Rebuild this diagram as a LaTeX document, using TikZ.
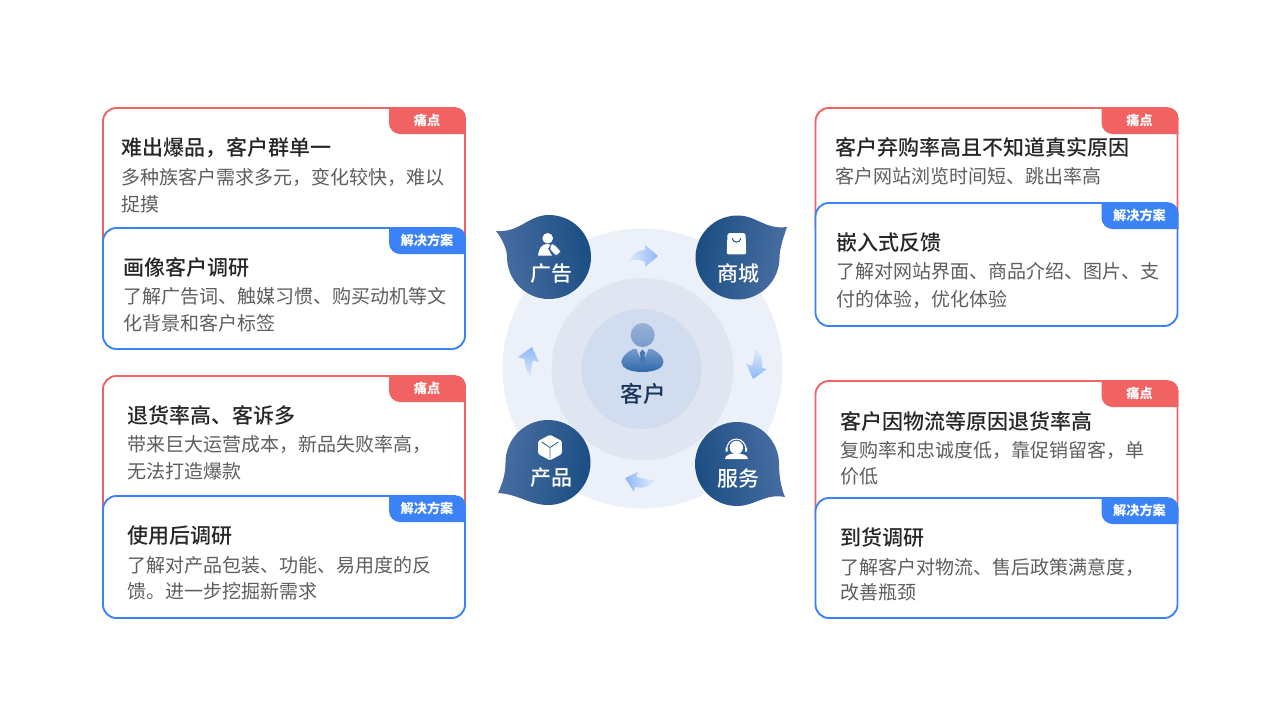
\documentclass[tikz,border=0pt]{standalone}
\usepackage{fontspec}
\setmainfont{Noto Sans CJK SC}
\newfontfamily\medfont{Noto Sans CJK SC Medium}
\definecolor{cred}{HTML}{F16362}
\definecolor{cblue}{HTML}{3A82F6}
\definecolor{ctitle}{HTML}{262626}
\definecolor{cbody}{HTML}{5E5E5E}
\definecolor{ringa}{HTML}{ECF1F9}
\definecolor{ringb}{HTML}{DFE6F1}
\definecolor{ringc}{HTML}{D1DDEE}
\definecolor{blobl}{HTML}{4A6FA3}
\definecolor{blobd}{HTML}{1B4E83}
\definecolor{arrs}{HTML}{8DB8F8}
\definecolor{arrp}{HTML}{E3ECFA}
\definecolor{heada}{HTML}{96B2D8}
\definecolor{headb}{HTML}{7A9BCB}
\definecolor{bodya}{HTML}{789BCD}
\definecolor{bodyb}{HTML}{2D69AA}
\definecolor{tiec}{HTML}{4878B4}
\definecolor{centertext}{HTML}{1A345C}
\tikzset{
  redcard/.style={draw=cred,line width=1.4pt,fill=white,rounded corners=10pt},
  bluecard/.style={draw=cblue,line width=1.4pt,fill=white,rounded corners=10pt},
  titletext/.style={anchor=west,inner sep=0pt,text height=12pt,text depth=0pt,text=ctitle,font=\medfont\fontsize{15.75pt}{18pt}\selectfont},
  bodytext/.style={anchor=west,inner sep=0pt,text height=10.8pt,text depth=0pt,text=cbody,font=\fontsize{14.25pt}{17pt}\selectfont},
  tagtext/.style={inner sep=0pt,text height=7.4pt,text depth=0pt,text=white,font=\bfseries\fontsize{9.9pt}{12pt}\selectfont},
  bloblabel/.style={inner sep=0pt,text height=12pt,text depth=0pt,text=white,font=\medfont\fontsize{15.75pt}{18pt}\selectfont},
  blob/.style={left color=blobl,right color=blobd,draw=none},
  flow/.style={draw=none},
}
\newcommand{\cardtag}[5]{%
  \fill[#4,shift={(#2,#3)}] (0,-0.8) -- (66,-0.8) arc (-90:0:11) -- (76.8,26) -- (11,26) arc (90:180:11) -- cycle;
  \node[tagtext] (#1) at (#2+38,#3+13) {#5};}
\begin{document}
\begin{tikzpicture}[x=0.75pt,y=-0.75pt]
\useasboundingbox (0,0) rectangle (1280,719);
\fill[white] (0,0) rectangle (1280,719);

% cards, left top
\draw[redcard] (103,108) rectangle (465,262);
\cardtag{tagA}{389}{108}{cred}{痛点}
\node[titletext] (tA) at (121,147) {难出爆品，客户群单一};
\node[bodytext] (bA1) at (121,177) {多种族客户需求多元，变化较快，难以};
\node[bodytext] (bA2) at (121,204) {捉摸};
\draw[bluecard] (103,228) rectangle (465,349);
\cardtag{tagB}{389}{228}{cblue}{解决方案}
\node[titletext] (tB) at (123,267) {画像客户调研};
\node[bodytext] (bB1) at (123,296) {了解广告词、触媒习惯、购买动机等文};
\node[bodytext] (bB2) at (123,323) {化背景和客户标签};

% left bottom
\draw[redcard] (103,376) rectangle (465,530);
\cardtag{tagC}{389}{376}{cred}{痛点}
\node[titletext] (tC) at (127,415) {退货率高、客诉多};
\node[bodytext] (bC1) at (127,444) {带来巨大运营成本，新品失败率高，};
\node[bodytext] (bC2) at (127,471) {无法打造爆款};
\draw[bluecard] (103,496) rectangle (465,618);
\cardtag{tagD}{389}{496}{cblue}{解决方案}
\node[titletext] (tD) at (127,535) {使用后调研};
\node[bodytext] (bD1) at (127,565) {了解对产品包装、功能、易用度的反};
\node[bodytext] (bD2) at (127,591) {馈。进一步挖掘新需求};

% right top
\draw[redcard] (815.5,108) rectangle (1177.5,240);
\cardtag{tagE}{1101.5}{108}{cred}{痛点}
\node[titletext] (tE) at (835,147) {客户弃购率高且不知道真实原因};
\node[bodytext] (bE1) at (835,176) {客户网站浏览时间短、跳出率高};
\draw[bluecard] (815.5,203) rectangle (1177.5,326);
\cardtag{tagF}{1101.5}{203}{cblue}{解决方案}
\node[titletext] (tF) at (836,242) {嵌入式反馈};
\node[bodytext] (bF1) at (836,271) {了解对网站界面、商品介绍、图片、支};
\node[bodytext] (bF2) at (836,299) {付的体验，优化体验};

% right bottom
\draw[redcard] (815.5,381) rectangle (1177.5,530);
\cardtag{tagG}{1101.5}{381}{cred}{痛点}
\node[titletext] (tG) at (840,421) {客户因物流等原因退货率高};
\node[bodytext] (bG1) at (840,450) {复购率和忠诚度低，靠促销留客，单};
\node[bodytext] (bG2) at (840,476) {价低};
\draw[bluecard] (815.5,498) rectangle (1177.5,618);
\cardtag{tagH}{1101.5}{498}{cblue}{解决方案}
\node[titletext] (tH) at (840,537) {到货调研};
\node[bodytext] (bH1) at (840,567) {了解客户对物流、售后政策满意度，};
\node[bodytext] (bH2) at (840,592) {改善瓶颈};

% rings
\fill[ringa] (642.5,368.5) circle (140);
\fill[ringb] (642.5,369) circle (91);
\fill[ringc] (641.5,369) circle (60);

% person
\shade[top color=heada,bottom color=headb] (642.7,335) circle (12);
\shade[top color=bodya,bottom color=bodyb]
  (633,349) .. controls (627,352) and (621.5,357) .. (621.5,362) .. controls (621.5,368) and (630,372) .. (642.5,372) .. controls (655,372) and (663.5,368) .. (663.5,362) .. controls (663.5,357) and (658,352) .. (652,349) -- cycle;
\fill[ringc] (636,347.5) -- (649,347.5) -- (642.5,363) -- cycle;
\fill[tiec] (642.5,349.5) -- (645.5,353) -- (644.5,356) -- (645.5,360) -- (642.5,364) -- (639.5,360) -- (640.5,356) -- (639.5,353) -- cycle;
\node[inner sep=0pt,text height=12.8pt,text depth=0pt,text=centertext,font=\medfont\fontsize{16.9pt}{20pt}\selectfont] (center) at (643,394) {客户};

% blobs
\path[blob,shading angle=100] (496,231) .. controls (520,233) and (528,215) .. (549,215) arc (-90:180:42) .. controls (507,250) and (503,240) .. (496,231) -- cycle;
\path[blob,shading angle=260] (787,227) .. controls (765,230) and (757,215.5) .. (737.5,215.5) arc (-90:-360:42) .. controls (779.5,250) and (783,238) .. (787,227) -- cycle;
\path[blob,shading angle=80] (498,493) .. controls (518,494) and (530,505) .. (548,505) arc (90:-180:42.5) .. controls (505.5,475) and (502,484) .. (498,493) -- cycle;
\path[blob,shading angle=280] (785,497) .. controls (765,493) and (755,506) .. (737,506) arc (90:360:42) .. controls (779,475) and (781,488) .. (785,497) -- cycle;

\node[bloblabel] (ad) at (551,273) {广告};
\node[bloblabel] (shop) at (738.5,273.5) {商城};
\node[bloblabel] (prod) at (551,477) {产品};
\node[bloblabel] (serv) at (738.5,478) {服务};

% icon: person with tag
\fill[white] (547.7,238.3) circle (5.3);
\fill[white] (538,255.7) .. controls (539,248) and (542,244) .. (547,244) .. controls (548.5,244) and (549.5,244.3) .. (550.5,244.8) -- (548,248.5) -- (552,255.7) -- cycle;
\fill[white,draw=blobd!80,line width=0.4pt,rounded corners=1pt] (551.7,243.3) -- (556,246) -- (561,251.7) -- (556,255.9) -- (549.5,249) -- cycle;
% icon: bag
\fill[white,rounded corners=1.5pt] (727.5,233.2) -- (745.5,233.2) -- (746.3,254.3) -- (726.7,254.3) -- cycle;
\draw[blobd,line width=0.7pt,line cap=round] (732.2,238.5) .. controls (733,243.3) and (740,243.3) .. (740.8,238.5);
% icon: cube
\fill[white,rounded corners=1pt] (550,434.7) -- (561.8,441) -- (561.8,454) -- (550,460.3) -- (538.2,454) -- (538.2,441) -- cycle;
\draw[blobd!85,line width=0.7pt] (550,447.5) -- (550,458) (550,447.5) -- (541.7,442) (550,447.5) -- (558.3,442);
% icon: headset
\fill[white] (736.3,447.5) circle (6.7);
\draw[white,line width=0.8pt] (726.5,450) arc (180:360:9.8 and 11);
\fill[white] (724.8,459) .. controls (725.5,454.5) and (731,453.5) .. (736.3,453.5) .. controls (741.5,453.5) and (747.5,454.5) .. (748,459) -- cycle;
\fill[white] (725.5,447.5) rectangle (727.5,451.5) (745,447.5) rectangle (747,451.5);

% flow arrows
\path[flow,left color=arrp,right color=arrs] (628,264) .. controls (631,254) and (638,250) .. (645,250) -- (645,245) -- (658,256) -- (645,267) -- (645,262) .. controls (638,258) and (632,259) .. (628,264) -- cycle;
\path[flow,top color=arrp,bottom color=arrs] (753,348) .. controls (762,352) and (763,362) .. (762,368) -- (767,369) -- (753,379) -- (746,364) -- (752,365.5) .. controls (755,358) and (755,352) .. (753,348) -- cycle;
\path[flow,left color=arrs,right color=arrp] (655,480) .. controls (648,480) and (642,478) .. (636.5,477) -- (638,472) -- (625,478) -- (634,492) -- (635,487) .. controls (642,489) and (650,487) .. (655,480) -- cycle;
\path[flow,top color=arrs,bottom color=arrp] (532,378) .. controls (527,373) and (524.5,367) .. (525,359.5) -- (518,357) -- (532,347) -- (539,362) -- (533,360.5) .. controls (531,367) and (531,373) .. (532,378) -- cycle;
\end{tikzpicture}
\end{document}
